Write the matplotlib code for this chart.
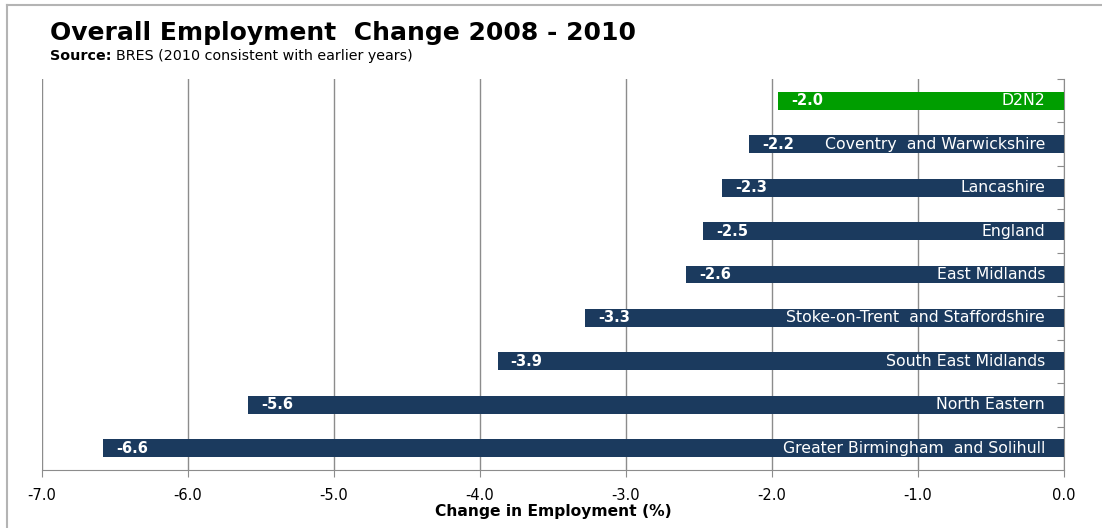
import matplotlib.pyplot as plt
from matplotlib.lines import Line2D

plt.rcParams['font.family'] = ['DejaVu Sans']

regions = ['D2N2', 'Coventry  and Warwickshire', 'Lancashire', 'England',
           'East Midlands', 'Stoke-on-Trent  and Staffordshire',
           'South East Midlands', 'North Eastern',
           'Greater Birmingham  and Solihull']
change = [-1.96, -2.16, -2.34, -2.47, -2.59, -3.28, -3.88, -5.59, -6.58]
bar_colors = ['#009e00'] + ['#1b3a5e'] * 8
xticks = [-7, -6, -5, -4, -3, -2, -1, 0]

W, H = 1102, 528
fig = plt.figure(figsize=(W / 100, H / 100), dpi=100)
ax = fig.add_axes([42 / W, 1 - 470 / H, (1064 - 42) / W, (470 - 79) / H])

# frame lines round the chart area (top and left only visible)
fig.add_artist(Line2D([7 / W, 1], [1 - 5 / H, 1 - 5 / H], color='#b4b4b4', lw=1.5))
fig.add_artist(Line2D([7 / W, 7 / W], [0, 1 - 5 / H], color='#b4b4b4', lw=1.5))

ypos = list(range(len(regions)))[::-1]
ax.barh(ypos, change, height=0.41, color=bar_colors, zorder=3)

for y, v, name in zip(ypos, change, regions):
    ax.text(v + 0.09, y, f'{v:.1f}', color='white', fontsize=10.5, fontweight='bold',
            va='center', ha='left', zorder=4)
    ax.text(-0.13, y, name, color='white', fontsize=11.3, va='center', ha='right', zorder=4)

ax.set_xlim(-7, 0)
ax.set_ylim(-0.5, len(regions) - 0.5)
ax.set_xticks(xticks)
ax.set_xticklabels([f'{t:.1f}' for t in xticks], fontsize=10.5)
ax.tick_params(axis='x', direction='out', length=5, color='#8c8c8c', pad=8)
ax.grid(axis='x', color='#8c8c8c', lw=1, zorder=0)

# category boundaries as ticks on the right-hand axis
ax.yaxis.tick_right()
ax.set_yticks([i + 0.5 for i in range(len(regions))])
ax.set_yticklabels([])
ax.tick_params(axis='y', direction='in', length=5, color='#8c8c8c')

for s in ['top', 'left']:
    ax.spines[s].set_visible(False)
for s in ['bottom', 'right']:
    ax.spines[s].set_color('#8c8c8c')

ax.set_xlabel('Change in Employment (%)', fontsize=11.2, fontweight='bold', labelpad=1)

fig.text(50 / W, 1 - 33 / H, 'Overall Employment  Change 2008 - 2010', fontsize=18,
         fontweight='bold', va='center', ha='left')
src = fig.text(50 / W, 1 - 56 / H, 'Source:', fontsize=10.3, fontweight='bold',
               va='center', ha='left')
renderer = fig.canvas.get_renderer()
x_end = src.get_window_extent(renderer).x1
fig.text(x_end / W + 4 / W, 1 - 56 / H, 'BRES (2010 consistent with earlier years)',
         fontsize=10.3, va='center', ha='left')

fig.savefig('out.png', dpi=100)
